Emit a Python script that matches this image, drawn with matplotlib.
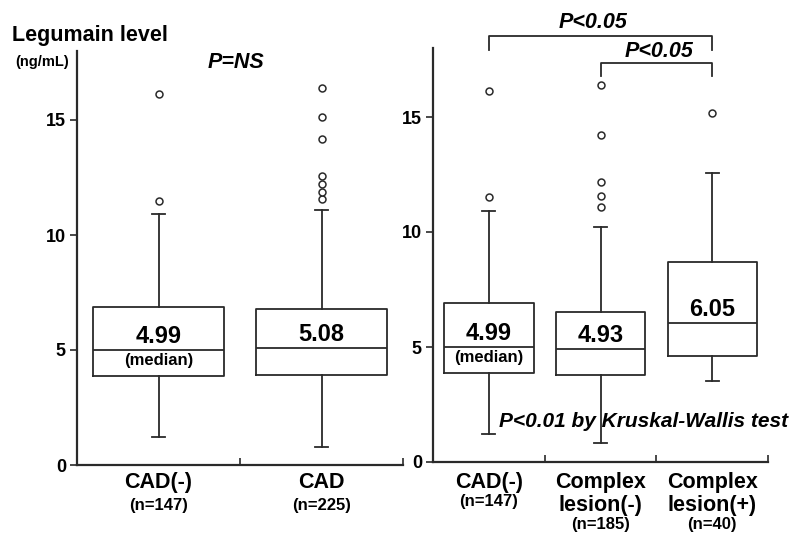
import numpy as np
import matplotlib.pyplot as plt

plt.rcParams['font.family'] = ['Liberation Sans', 'DejaVu Sans']
plt.rcParams['font.weight'] = 'bold'

# left panel: CAD(-) vs CAD
left_names = [['CAD(-)'], ['CAD']]
left_n = ['(n=147)', '(n=225)']
left_med = [4.99, 5.08]
left_q1 = [3.87, 3.91]
left_q3 = [6.87, 6.78]
left_lo = [1.22, 0.78]
left_hi = [10.90, 11.09]
left_fliers = [[11.48, 16.13],
               [11.55, 11.85, 12.20, 12.58, 14.17, 15.14, 16.39]]

# right panel: CAD(-) vs complex lesion (-)/(+)
right_names = [['CAD(-)'], ['Complex', 'lesion(-)'], ['Complex', 'lesion(+)']]
right_n = ['(n=147)', '(n=185)', '(n=40)']
right_med = [4.99, 4.93, 6.05]
right_q1 = [3.88, 3.78, 4.62]
right_q3 = [6.90, 6.53, 8.71]
right_lo = [1.22, 0.81, 3.53]
right_hi = [10.93, 10.23, 12.55]
right_fliers = [[11.53, 16.13],
                [11.09, 11.57, 12.19, 14.22, 16.39],
                [15.19]]

LINE = '#2a2a2a'


def make_stats(med, q1, q3, lo, hi, fliers):
    return [dict(med=m, q1=a, q3=b, whislo=l, whishi=h, fliers=f)
            for m, a, b, l, h, f in zip(med, q1, q3, lo, hi, fliers)]


def setup_axis(ax, ncat):
    ax.set_xlim(0.5, ncat + 0.5)
    ax.set_ylim(0, 18)
    for s in ['top', 'right']:
        ax.spines[s].set_visible(False)
    for s in ['left', 'bottom']:
        ax.spines[s].set_linewidth(1.6)
        ax.spines[s].set_color(LINE)
    ax.set_yticks([0, 5, 10, 15])
    ax.tick_params(axis='y', direction='out', length=5, width=1.2,
                   color=LINE, labelsize=13, pad=3)
    ax.set_xticks(np.arange(1, ncat + 1))
    ax.set_xticklabels([])
    ax.tick_params(axis='x', which='major', length=0)
    ax.set_xticks(np.arange(1.5, ncat + 1), minor=True)
    ax.tick_params(axis='x', which='minor', direction='in', length=5,
                   width=1.2, color=LINE)
    for lab in ax.get_yticklabels():
        lab.set_fontweight('bold')


def draw_boxes(ax, stats, capw):
    ax.bxp(stats, positions=np.arange(1, len(stats) + 1), widths=0.8,
           capwidths=capw, manage_ticks=False,
           boxprops=dict(color=LINE, linewidth=1.3),
           medianprops=dict(color=LINE, linewidth=1.3),
           whiskerprops=dict(color=LINE, linewidth=1.3),
           capprops=dict(color=LINE, linewidth=1.3),
           flierprops=dict(marker='o', markersize=5, markerfacecolor='white',
                           markeredgecolor=LINE, markeredgewidth=1.1))


def cat_labels(ax, names, ns, off_name, step, n_gap):
    # stacked category labels under the axis, n= line in smaller type
    for i, (name, n) in enumerate(zip(names, ns)):
        off = off_name
        for line in name:
            ax.annotate(line, xy=(i + 1, 0), xycoords=('data', 'axes fraction'),
                        xytext=(0, -off), textcoords='offset points',
                        ha='center', va='center', fontsize=15.5, annotation_clip=False)
            off += step
        off = off - step + n_gap
        ax.annotate(n, xy=(i + 1, 0), xycoords=('data', 'axes fraction'),
                    xytext=(0, -off), textcoords='offset points',
                    ha='center', va='center', fontsize=12, annotation_clip=False)


def median_labels(ax, med, with_note):
    for i, m in enumerate(med):
        ax.annotate(f'{m:.2f}', xy=(i + 1, m), xytext=(0, 5),
                    textcoords='offset points', ha='center', va='baseline',
                    fontsize=17)
        if with_note[i]:
            ax.annotate('(median)', xy=(i + 1, m), xytext=(0, -7.5),
                        textcoords='offset points', ha='center', va='center',
                        fontsize=12)


fig = plt.figure(figsize=(7.92, 5.33), dpi=100)
ax1 = fig.add_axes([77 / 792, 68 / 533, 326 / 792, 414 / 533])
ax2 = fig.add_axes([433 / 792, 71 / 533, 335 / 792, 414 / 533])

setup_axis(ax1, 2)
setup_axis(ax2, 3)

draw_boxes(ax1, make_stats(left_med, left_q1, left_q3, left_lo, left_hi, left_fliers), 0.08)
draw_boxes(ax2, make_stats(right_med, right_q1, right_q3, right_lo, right_hi, right_fliers), 0.115)

median_labels(ax1, left_med, [True, False])
median_labels(ax2, right_med, [True, False, False])

cat_labels(ax1, left_names, left_n, 12.5, 17, 16.5)
cat_labels(ax2, right_names, right_n, 14.5, 16.5, 14)

# significance annotations
ax1.text(1.475, 17.5, 'P=NS', style='italic', fontsize=15.5,
         ha='center', va='center')

ax2.plot([1, 1, 3, 3], [17.9, 18.52, 18.52, 17.9], color=LINE, lw=1.3,
         clip_on=False)
ax2.text(1.93, 19.1, 'P<0.05', style='italic', fontsize=15.5,
         ha='center', va='center')
ax2.plot([2, 2, 3, 3], [16.8, 17.33, 17.33, 16.8], color=LINE, lw=1.3,
         clip_on=False)
ax2.text(2.52, 17.85, 'P<0.05', style='italic', fontsize=15.5,
         ha='center', va='center')
ax2.text(2.39, 1.75, 'P<0.01 by Kruskal-Wallis test', style='italic',
         fontsize=15, ha='center', va='center', clip_on=False)

fig.text(12 / 792, 1 - 35 / 533, 'Legumain level', fontsize=15.5,
         ha='left', va='center')
fig.text(15 / 792, 1 - 62 / 533, '(ng/mL)', fontsize=10.5,
         ha='left', va='center')

fig.savefig('out.png', dpi=100)
